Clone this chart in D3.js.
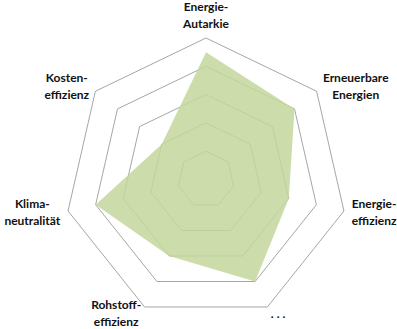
<!DOCTYPE html>
<html>
<head>
<meta charset="utf-8">
<script src="https://cdn.jsdelivr.net/npm/d3@7"></script>
<style>
  body { margin: 0; background: #fff; }
  .axis-label { font-family: Lato, "Open Sans", sans-serif; font-weight: bold; font-size: 12px; fill: #111; }
</style>
</head>
<body>
<div id="chart"></div>
<script>
// axis names (line breaks as in the original)
var categories = [
    ["Energie-", "Autarkie"],
    ["Erneuerbare", "Energien"],
    ["Energie-", "effizienz"],
    [". . ."],
    ["Rohstoff-", "effizienz"],
    ["Klima-", "neutralität"],
    ["Kosten-", "effizienz"]
];
var values = [4.5, 4, 3, 4, 3, 4, 2];
var levels = [1, 2, 3, 4, 5];

var width = 397, height = 329;
var cx = 206, cy = 179.5, radius = 141.5;
var labelPad = 8, lineHeight = 17;

var svg = d3.select("#chart").append("svg")
    .attr("width", width)
    .attr("height", height);

var g = svg.append("g").attr("transform", "translate(" + cx + "," + cy + ")");

var angle = d3.scaleLinear()
    .domain([0, categories.length])
    .range([0, 2 * Math.PI]);

var r = d3.scaleLinear()
    .domain([0, 5])
    .range([0, radius]);

var line = d3.lineRadial()
    .angle(function (d, i) { return angle(i); })
    .radius(function (d) { return r(d); })
    .curve(d3.curveLinearClosed);

// grid rings
g.selectAll(".ring")
    .data(levels)
    .enter().append("path")
    .attr("class", "ring")
    .attr("d", function (lv) { return line(categories.map(function () { return lv; })); })
    .attr("fill", "none")
    .attr("stroke", "#a6a6a6")
    .attr("stroke-width", 1);

// data area
g.append("path")
    .datum(values)
    .attr("d", line)
    .attr("fill", "#c3d69b")
    .attr("fill-opacity", 0.85);

// labels
var labels = g.selectAll(".axis-label")
    .data(categories)
    .enter().append("text")
    .attr("class", "axis-label");

labels.each(function (lines, i) {
    var t = d3.select(this);
    lines.forEach(function (s, k) {
        t.append("tspan").attr("x", 0).attr("y", k * lineHeight).text(s);
    });
});

labels.each(function (lines, i) {
    var t = d3.select(this);
    var a = angle(i);
    var s = Math.sin(a), c = Math.cos(a);
    var px = (radius + labelPad) * s;
    var py = -(radius + labelPad) * c;
    var tspans = t.selectAll("tspan").nodes();
    var w = d3.max(tspans, function (n) { return n.getComputedTextLength(); });
    var h = lines.length * lineHeight;
    var bx;
    if (s > 0.1) bx = px + w / 2;
    else if (s < -0.1) bx = px - w / 2;
    else bx = px;
    var by;
    if (Math.abs(s) < 0.1) by = py - c * (h / 2 - 3);
    else by = py;
    // block centre -> first baseline
    var firstBase = by - h / 2 + lineHeight * 0.72;
    t.attr("text-anchor", "middle");
    t.selectAll("tspan")
        .attr("x", bx)
        .attr("y", function (d, k) { return firstBase + k * lineHeight; });
});
</script>
</body>
</html>
